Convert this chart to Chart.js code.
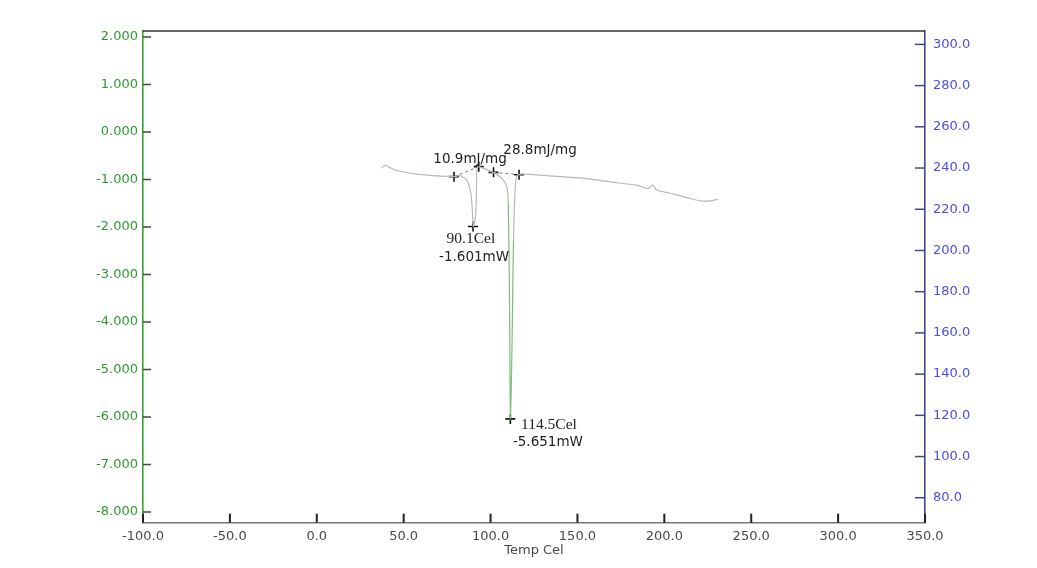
<!DOCTYPE html>
<html>
<head>
<meta charset="utf-8">
<script src="https://cdn.jsdelivr.net/npm/chart.js@4.4.0/dist/chart.umd.min.js"></script>
<style>
  html, body { margin: 0; padding: 0; background: #fff; }
  #wrap { width: 1037px; height: 568px; }
</style>
</head>
<body>
<div id="wrap"><canvas id="dsc" width="1037" height="568"></canvas></div>
<script>
// DSC trace: temperature (Cel) vs heat flow (mW, left axis)
const tempC = [37.3, 39.3, 45.0, 56.5, 71.9, 79.0, 82.4, 86.3, 88.6, 89.5, 90.1, 91.4, 91.9, 92.4, 95.6, 101.4,
  106.4, 109.3, 110.2, 110.9, 111.4, 112.3, 113.2, 114.1, 115.0, 116.4, 117.9, 136.1, 155.3, 168.7, 184.1,
  190.8, 193.3, 195.6, 203.3, 212.9, 220.5, 226.3, 231.0];
const heatFlow = [-0.76, -0.70, -0.80, -0.88, -0.93, -0.94, -0.92, -1.01, -1.28, -1.64, -1.99, -1.75, -1.22, -0.74, -0.76, -0.85,
  -0.97, -1.15, -1.50, -3.54, -6.04, -4.59, -2.27, -1.22, -0.93, -0.90, -0.88, -0.93, -0.98, -1.05, -1.12,
  -1.19, -1.12, -1.22, -1.29, -1.38, -1.45, -1.45, -1.41];

// integration baselines
const base1Temp = [79.0, 93.2];
const base1Flow = [-0.94, -0.73];
const base2Temp = [101.7, 116.4];
const base2Flow = [-0.85, -0.90];

// analysis markers (+)
const markTemp = [79.0, 93.2, 101.7, 116.4, 89.9, 111.4];
const markFlow = [-0.94, -0.73, -0.85, -0.90, -1.99, -6.04];

// annotation texts and where they sit
const noteText = ['10.9mJ/mg', '28.8mJ/mg', '90.1Cel', '-1.601mW', '114.5Cel', '-5.651mW'];
const noteTemp = [88.2, 128.5, 88.7, 90.5, 133.6, 133.0];
const noteFlow = [-0.57, -0.38, -2.25, -2.65, -6.17, -6.53];
const noteSerif = [false, false, true, false, true, false];

const xTicks = [-100, -50, 0, 50, 100, 150, 200, 250, 300, 350];
const leftTicks = [2, 1, 0, -1, -2, -3, -4, -5, -6, -7, -8];
const rightTicks = [300, 280, 260, 240, 220, 200, 180, 160, 140, 120, 100, 80];

const toPts = (xs, ys) => xs.map((x, i) => ({ x, y: ys[i] }));

const frame = {
  id: 'frame',
  afterDraw(chart) {
    const ctx = chart.ctx;
    const a = chart.chartArea;
    ctx.save();
    // top border
    ctx.strokeStyle = '#333';
    ctx.lineWidth = 1.5;
    ctx.beginPath();
    ctx.moveTo(a.left, a.top);
    ctx.lineTo(a.right, a.top);
    ctx.stroke();

    // inward tick marks
    const x = chart.scales.x, y = chart.scales.y, y2 = chart.scales.y2;
    ctx.strokeStyle = '#222';
    ctx.lineWidth = 2;
    x.ticks.forEach((t, i) => {
      const p = x.getPixelForTick(i);
      ctx.beginPath(); ctx.moveTo(p, a.bottom); ctx.lineTo(p, a.bottom - 9); ctx.stroke();
    });
    ctx.strokeStyle = '#3f4a3f';
    ctx.lineWidth = 1.5;
    y.ticks.forEach((t, i) => {
      const p = y.getPixelForTick(i);
      ctx.beginPath(); ctx.moveTo(a.left, p); ctx.lineTo(a.left + 8, p); ctx.stroke();
    });
    ctx.strokeStyle = '#45458f';
    y2.ticks.forEach((t, i) => {
      const p = y2.getPixelForTick(i);
      ctx.beginPath(); ctx.moveTo(a.right, p); ctx.lineTo(a.right - 10, p); ctx.stroke();
    });

    // annotations
    ctx.fillStyle = '#222';
    ctx.textAlign = 'center';
    ctx.textBaseline = 'middle';
    noteText.forEach((s, i) => {
      ctx.font = noteSerif[i] ? '15.5px "Liberation Serif"' : '13.5px "DejaVu Sans"';
      ctx.fillText(s, x.getPixelForValue(noteTemp[i]), y.getPixelForValue(noteFlow[i]));
    });
    ctx.restore();
  }
};

new Chart(document.getElementById('dsc'), {
  type: 'scatter',
  data: {
    datasets: [
      {
        data: toPts(tempC, heatFlow),
        showLine: true,
        borderColor: '#b2bdb2',
        borderWidth: 1.2,
        pointRadius: 0,
        tension: 0.25,
        segment: {
          borderColor: (c) => (c.p0.parsed.y < -2.6 || c.p1.parsed.y < -2.6) ? '#7cbc7c' : undefined
        }
      },
      {
        data: toPts(base1Temp, base1Flow),
        showLine: true,
        borderColor: '#777',
        borderWidth: 1,
        borderDash: [3, 3],
        pointRadius: 0
      },
      {
        data: toPts(base2Temp, base2Flow),
        showLine: true,
        borderColor: '#777',
        borderWidth: 1,
        borderDash: [3, 3],
        pointRadius: 0
      },
      {
        data: toPts(markTemp, markFlow),
        pointStyle: 'cross',
        pointRadius: 5,
        borderColor: '#111',
        borderWidth: 1.6,
        backgroundColor: '#111'
      }
    ]
  },
  options: {
    responsive: false,
    animation: false,
    layout: { padding: { top: 31, left: 0, right: 0, bottom: 0 } },
    plugins: { legend: { display: false }, tooltip: { enabled: false } },
    scales: {
      x: {
        type: 'linear',
        min: -100,
        max: 350,
        afterBuildTicks: (s) => { s.ticks = xTicks.map((v) => ({ value: v })); },
        afterFit: (s) => { s.height = 45.3; },
        grid: { drawOnChartArea: false, drawTicks: false },
        border: { color: '#777', width: 1.5 },
        ticks: {
          padding: 6,
          color: '#4a4a4a',
          font: { family: 'DejaVu Sans', size: 13 },
          callback: (v) => v.toFixed(1)
        },
        title: {
          display: true,
          text: 'Temp Cel',
          color: '#4a4a4a',
          font: { family: 'DejaVu Sans', size: 13 },
          padding: { top: 0, bottom: 10 }
        }
      },
      y: {
        position: 'left',
        min: -8.225,
        max: 2.126,
        afterBuildTicks: (s) => { s.ticks = leftTicks.map((v) => ({ value: v })); },
        afterFit: (s) => { s.width = 143; },
        grid: { drawOnChartArea: false, drawTicks: false },
        border: { color: '#3c9c3c', width: 1.6 },
        ticks: {
          padding: 5,
          color: '#2e9a2e',
          font: { family: 'DejaVu Sans', size: 13 },
          callback: (v) => v.toFixed(3)
        }
      },
      y2: {
        position: 'right',
        display: true,
        min: 67.9,
        max: 306.5,
        afterBuildTicks: (s) => { s.ticks = rightTicks.map((v) => ({ value: v })); },
        afterFit: (s) => { s.width = 112; },
        grid: { drawOnChartArea: false, drawTicks: false },
        border: { color: '#45458f', width: 1.6 },
        ticks: {
          padding: 8,
          color: '#4b4bf0',
          font: { family: 'DejaVu Sans', size: 13 },
          callback: (v) => v.toFixed(1)
        }
      }
    }
  },
  plugins: [frame]
});
</script>
</body>
</html>
